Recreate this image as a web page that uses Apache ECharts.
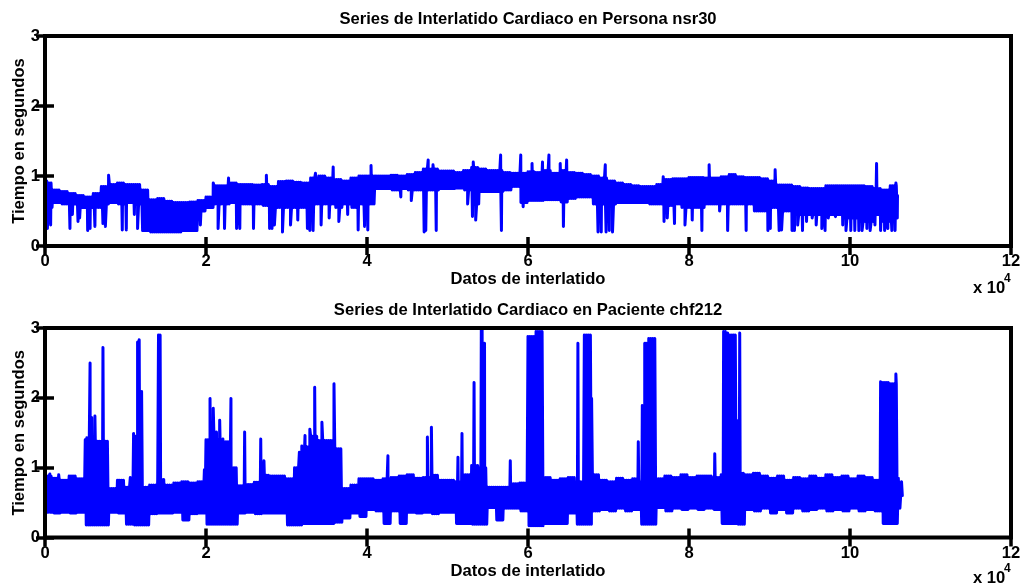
<!DOCTYPE html>
<html>
<head>
<meta charset="utf-8">
<script src="https://cdn.jsdelivr.net/npm/echarts@6/dist/echarts.min.js"></script>
<style>
html,body{margin:0;padding:0;background:#fff;}
#chart{width:1024px;height:586px;}
</style>
</head>
<body>
<div id="chart"></div>
<script>
// ---- data (beat-index step of 1000 per entry; typical upper / lower band edges) ----
const STEP = 1000;
const xTickLabels = ['0', '2', '4', '6', '8', '10', '12'];
const yTickLabels = ['0', '1', '2', '3'];
const titleTop = 'Series de Interlatido Cardiaco en Persona nsr30';
const titleBottom = 'Series de Interlatido Cardiaco en Paciente chf212';
const xName = 'Datos de interlatido';
const yName = 'Tiempo en segundos';

const nsrHi = [0.9,0.8,0.78,0.75,0.72,0.7,0.75,0.85,0.88,0.9,
  0.88,0.88,0.8,0.66,0.68,0.64,0.62,0.62,0.63,0.65,
  0.7,0.86,0.86,0.9,0.88,0.88,0.87,0.88,0.85,0.92,
  0.93,0.91,0.9,0.97,1.0,0.97,0.95,0.93,0.97,1.0,
  1.0,1.0,1.0,1.01,1.0,1.02,1.05,1.1,1.1,1.07,
  1.07,1.05,1.08,1.12,1.1,1.08,1.08,1.05,1.04,1.04,
  1.06,1.05,1.08,1.04,1.08,1.05,1.04,1.02,1.0,0.97,
  0.93,0.9,0.88,0.86,0.85,0.85,0.88,0.95,0.96,0.96,
  0.98,0.98,0.97,0.97,0.99,1.02,0.99,0.98,0.98,0.96,
  0.93,0.87,0.87,0.85,0.83,0.82,0.82,0.86,0.86,0.86,
  0.86,0.86,0.85,0.82,0.8,0.86];
const nsrLo = [0.55,0.62,0.6,0.6,0.55,0.55,0.55,0.6,0.62,0.6,
  0.62,0.6,0.22,0.2,0.2,0.2,0.2,0.22,0.22,0.5,
  0.55,0.6,0.6,0.62,0.6,0.6,0.6,0.58,0.55,0.55,
  0.55,0.55,0.55,0.6,0.6,0.6,0.55,0.6,0.55,0.6,
  0.6,0.82,0.82,0.8,0.82,0.8,0.8,0.8,0.8,0.82,
  0.82,0.83,0.8,0.6,0.78,0.78,0.78,0.8,0.85,0.62,
  0.65,0.65,0.66,0.66,0.63,0.68,0.7,0.7,0.6,0.6,
  0.6,0.62,0.62,0.62,0.62,0.6,0.6,0.58,0.6,0.55,
  0.55,0.55,0.6,0.6,0.6,0.6,0.6,0.6,0.5,0.5,
  0.55,0.5,0.5,0.45,0.45,0.45,0.45,0.45,0.45,0.4,
  0.4,0.35,0.35,0.45,0.35,0.4];
// isolated beats above / below the band
const nsrPeaks = [[200,0.93],[7900,1.01],[20900,0.9],[22800,0.97],[27500,1.01],[33600,1.04],[35800,1.13],
  [40500,1.15],[47600,1.23],[48200,1.16],[53200,1.2],[56600,1.3],[59100,1.3],[60500,1.18],[61800,1.2],
  [62600,1.3],[64000,1.18],[64800,1.23],[69600,1.16],[76800,0.99],[82500,1.16],[85300,1.04],[90700,1.09],
  [103300,1.18],[105700,0.9],
  [300,0.25],[700,0.3],[3100,0.25],[3400,0.45],[4100,0.35],[4300,0.4],[5300,0.22],[5600,0.25],[6200,0.28],
  [7200,0.32],[7500,0.28],[9600,0.23],[10100,0.23],[11100,0.45],[11500,0.25],[19300,0.3],[21500,0.25],
  [22300,0.25],[23800,0.25],[24200,0.25],[25900,0.25],[27900,0.25],[28200,0.25],[28500,0.3],[29500,0.2],
  [30500,0.3],[31400,0.37],[32600,0.25],[32900,0.22],[33300,0.22],[34300,0.3],[35300,0.4],[36500,0.35],
  [37600,0.45],[38900,0.23],[39700,0.28],[40100,0.23],[44200,0.7],[45500,0.65],[47100,0.2],[47300,0.22],
  [48600,0.22],[52500,0.6],[53100,0.42],[53500,0.37],[56700,0.22],[59400,0.56],[64400,0.28],[68700,0.2],
  [69100,0.2],[69700,0.2],[70100,0.22],[70500,0.2],[76900,0.35],[77300,0.4],[78200,0.32],[79500,0.3],
  [80400,0.37],[81600,0.22],[83800,0.5],[84800,0.22],[87100,0.22],[89800,0.22],[90100,0.25],[91200,0.22],
  [91500,0.23],[92800,0.22],[93100,0.22],[93500,0.3],[94100,0.22],[94600,0.35],[95300,0.4],[95800,0.3],
  [96500,0.25],[96900,0.22],[97300,0.4],[98200,0.42],[99100,0.3],[99500,0.22],[100100,0.22],[100600,0.22],
  [101100,0.22],[101500,0.22],[102100,0.25],[102500,0.22],[103100,0.3],[103800,0.22],[104300,0.22],
  [104700,0.25],[105200,0.22],[105600,0.22],[105900,0.72]];

const chfHi = [0.88,0.85,0.82,0.88,0.84,1.4,1.38,1.38,0.7,0.82,
  0.72,1.45,0.72,0.75,0.83,0.75,0.78,0.8,0.78,0.8,
  1.4,1.4,1.37,1.0,0.74,0.76,0.79,0.89,0.88,0.88,
  0.84,1.0,1.3,1.45,1.39,1.39,1.27,0.7,0.75,0.84,
  0.84,0.82,0.84,0.86,0.88,0.9,0.85,0.86,0.89,0.82,
  0.82,0.8,0.9,1.03,1.0,0.72,0.72,0.72,0.77,0.78,
  2.88,2.95,0.86,0.82,0.84,0.86,0.8,2.9,0.9,0.82,
  0.8,0.85,0.82,0.84,0.8,2.85,0.84,0.88,0.86,0.9,
  0.86,0.88,0.88,0.86,0.9,2.9,0.92,0.9,0.92,0.88,
  0.85,0.88,0.82,0.86,0.84,0.88,0.85,0.9,0.86,0.88,
  0.84,0.88,0.86,0.82,2.22,2.2];
const chfLo = [0.36,0.35,0.36,0.35,0.36,0.18,0.18,0.18,0.36,0.35,
  0.19,0.18,0.18,0.34,0.35,0.35,0.36,0.25,0.34,0.35,
  0.19,0.19,0.19,0.19,0.35,0.36,0.34,0.35,0.35,0.35,
  0.18,0.18,0.2,0.2,0.2,0.2,0.22,0.28,0.35,0.3,
  0.4,0.38,0.2,0.38,0.2,0.36,0.35,0.36,0.34,0.36,
  0.36,0.2,0.2,0.19,0.19,0.43,0.25,0.42,0.42,0.38,
  0.17,0.17,0.2,0.2,0.2,0.35,0.19,0.19,0.38,0.4,
  0.38,0.42,0.38,0.4,0.19,0.19,0.43,0.38,0.42,0.4,
  0.42,0.4,0.42,0.4,0.2,0.2,0.19,0.4,0.38,0.42,
  0.35,0.4,0.35,0.42,0.38,0.4,0.42,0.38,0.4,0.38,
  0.42,0.38,0.4,0.38,0.2,0.2];
const chfPeaks = [[600,0.91],[1700,0.9],[3100,0.9],[5200,1.43],[5600,2.5],[5800,1.72],[6200,1.74],
  [6600,1.39],[7200,2.72],[7600,1.37],[9200,0.82],[10600,0.86],[11000,1.49],[11500,2.8],[11700,2.83],
  [12000,2.09],[14100,2.9],[14300,2.9],[19800,0.97],[20500,1.99],[20900,1.85],[21300,1.51],[21700,1.68],
  [22100,1.41],[23100,1.99],[24800,1.51],[26800,1.41],[27200,1.1],[31600,1.22],[31900,1.31],[32300,1.46],
  [32900,1.55],[33500,2.15],[34400,1.65],[35900,2.2],[42600,1.17],[47500,1.44],[48000,1.58],[51300,1.15],
  [51800,1.49],[53300,2.22],[54200,3.0],[54300,3.0],[54600,2.78],[57800,1.1],[66200,2.78],[67900,1.99],
  [73700,1.37],[74200,1.89],[74500,2.78],[74700,2.78],[83200,1.2],[84300,2.95],[84500,2.95],[84800,2.93],
  [85600,2.54],[85900,1.68],[86300,2.93],[103800,2.23],[105700,2.34],[106000,0.85],[106200,0.42],
  [106400,0.8],[106500,0.6]];

// Build a dense trace: each step alternates between its read upper and lower values, plus read single beats.
const SUB = 8;
function buildTrace(hi, lo, peaks) {
  const pts = [];
  for (let i = 0; i < hi.length; i++) {
    for (let j = 0; j < SUB; j++) {
      pts.push([i * STEP + j * STEP / SUB, j % 2 === 0 ? hi[i] : lo[i]]);
    }
  }
  peaks.forEach(p => pts.push([p[0], p[1]]));
  pts.sort((a, b) => a[0] - b[0]);
  return pts;
}

const FONT = 'Liberation Sans';
const FS = 16.6;
const chart = echarts.init(document.getElementById('chart'), null, {renderer: 'canvas'});

const grids = [
  {left: 45, right: 13, top: 36, height: 210},
  {left: 45, right: 13, top: 328, height: 209.5}
];

const tickStyle = {show: true, inside: true, length: 9, lineStyle: {color: '#000', width: 3.5}};
function xAxes(gi) {
  return [{
    gridIndex: gi, type: 'value', min: 0, max: 120000, interval: 20000,
    axisLine: {show: false}, axisTick: tickStyle,
    axisLabel: {show: true, margin: 7, color: '#000', fontFamily: FONT, fontWeight: 'bold', fontSize: FS,
      formatter: (v) => xTickLabels[Math.round(v / 20000)]},
    splitLine: {show: false},
    name: xName, nameLocation: 'middle', nameGap: 25, nameMoveOverlap: false,
    nameTextStyle: {color: '#000', fontFamily: FONT, fontWeight: 'bold', fontSize: FS}
  }, {
    gridIndex: gi, type: 'value', min: 0, max: 120000, interval: 20000, position: 'top',
    axisLine: {show: false}, axisTick: tickStyle,
    axisLabel: {show: false}, splitLine: {show: false}
  }];
}
function yAxes(gi) {
  return [{
    gridIndex: gi, type: 'value', min: 0, max: 3, interval: 1,
    axisLine: {show: false}, axisTick: tickStyle,
    axisLabel: {show: true, margin: 5, color: '#000', fontFamily: FONT, fontWeight: 'bold', fontSize: FS,
      formatter: (v) => yTickLabels[Math.round(v)]},
    splitLine: {show: false},
    name: yName, nameLocation: 'middle', nameGap: 17, nameRotate: 90, nameMoveOverlap: false,
    nameTextStyle: {color: '#000', fontFamily: FONT, fontWeight: 'bold', fontSize: FS}
  }, {
    gridIndex: gi, type: 'value', min: 0, max: 3, interval: 1, position: 'right',
    axisLine: {show: false}, axisTick: tickStyle,
    axisLabel: {show: false}, splitLine: {show: false}
  }];
}

function lineSeries(xi, yi, data) {
  return {
    type: 'line', xAxisIndex: xi, yAxisIndex: yi, data: data,
    showSymbol: false, symbol: 'none', sampling: null, clip: true, progressive: 0,
    lineStyle: {color: '#0000ff', width: 3, join: 'round', cap: 'round'},
    emphasis: {disabled: true}, silent: true, z: 1
  };
}

const txt = (t, x, y, size, align) => ({
  type: 'text', x: x, y: y, z: 10,
  style: {text: t, fill: '#000', font: 'bold ' + size + 'px "' + FONT + '"', textAlign: align || 'center', textVerticalAlign: 'middle'}
});

chart.setOption({
  animation: false,
  backgroundColor: '#fff',
  grid: grids.map(g => Object.assign({show: true, borderColor: '#000', borderWidth: 4, backgroundColor: 'transparent',
    z: 5, containLabel: false, outerBoundsMode: 'none'}, g)),
  xAxis: [...xAxes(0), ...xAxes(1)],
  yAxis: [...yAxes(0), ...yAxes(1)],
  series: [
    lineSeries(0, 0, buildTrace(nsrHi, nsrLo, nsrPeaks)),
    lineSeries(2, 2, buildTrace(chfHi, chfLo, chfPeaks))
  ],
  graphic: [
    txt(titleTop, 528, 19.5, FS),
    txt(titleBottom, 528, 310, FS),
    txt('x 10', 973, 288, FS, 'left'),
    txt('4', 1004, 279, 12, 'left'),
    txt('x 10', 973, 578, FS, 'left'),
    txt('4', 1004, 569, 12, 'left')
  ]
});
</script>
</body>
</html>
